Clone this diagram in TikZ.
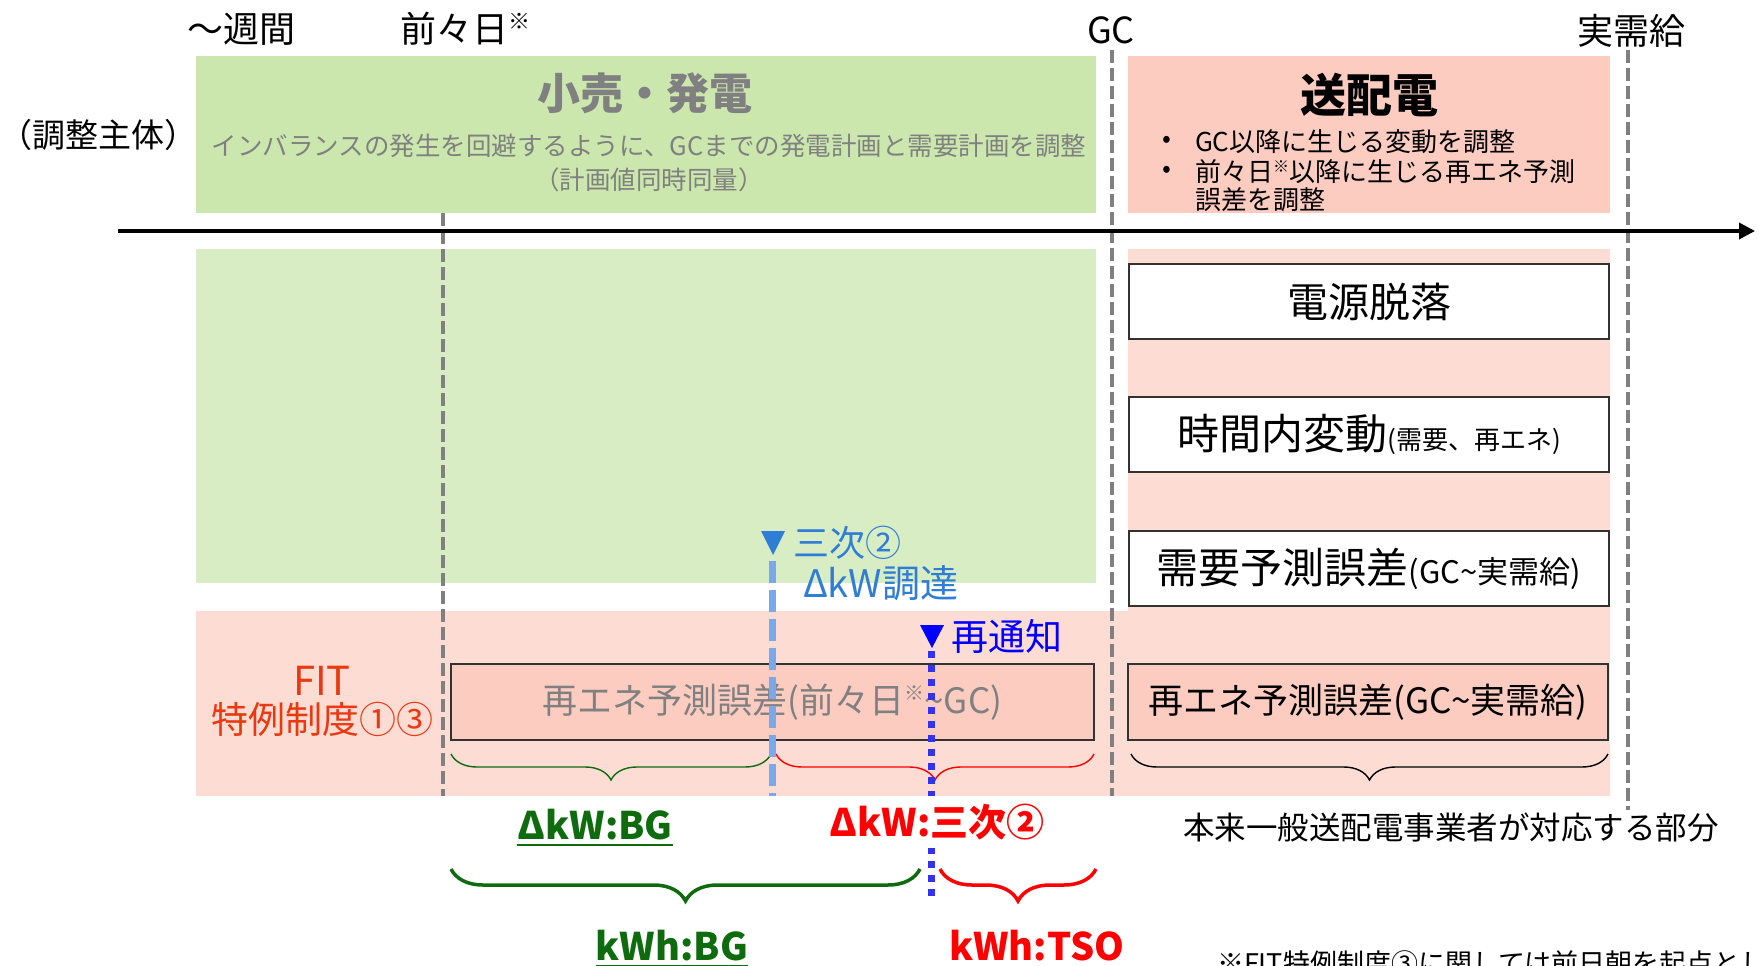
\documentclass[tikz,border=0pt]{standalone}
\usepackage{fontspec}
\setmainfont{Noto Sans CJK JP}
\usetikzlibrary{decorations.pathreplacing,arrows.meta}
\newcommand{\fsz}[1]{\fontsize{#1}{#1}\selectfont}
\newcommand{\kome}[1]{\raisebox{0.38em}{\fontsize{#1}{#1}\selectfont ※}}
\definecolor{gtop}{RGB}{203,231,174}
\definecolor{gbot}{RGB}{217,237,196}
\definecolor{ptop}{RGB}{252,204,193}
\definecolor{pbot}{RGB}{253,220,212}
\definecolor{grayline}{RGB}{128,128,128}
\definecolor{graytext}{RGB}{128,128,128}
\definecolor{dgreen}{RGB}{14,107,14}
\definecolor{fitred}{RGB}{234,56,16}
\definecolor{lblue}{RGB}{46,125,214}
\definecolor{lbline}{RGB}{125,168,232}
\definecolor{dblue}{RGB}{0,0,255}
\definecolor{dotblue}{RGB}{51,51,238}
\definecolor{boxline}{RGB}{50,50,50}
\tikzset{
  every node/.style={inner sep=0pt, outer sep=0pt},
  vdash/.style={draw=grayline, line width=3.5pt, dash pattern=on 13pt off 5pt},
  whitebox/.style={draw=boxline, line width=1.8pt, fill=white, minimum width=480pt, minimum height=75pt, anchor=north west},
  salmonbox/.style={draw=boxline, line width=1.8pt, fill=ptop, minimum height=76pt, anchor=north west},
  thinbrace/.style={decorate, decoration={brace, amplitude=26pt}, line width=1.4pt},
  thickbrace/.style={decorate, decoration={brace, amplitude=32pt}, line width=3.5pt},
  boldlab/.style={font=\bfseries\fsz{38}},
  ul/.style={line width=2.5pt}
}
\begin{document}
\begin{tikzpicture}[x=1pt,y=-1pt]
\useasboundingbox (0,0) rectangle (1759,966);
\clip (0,0) rectangle (1759,966);
% backgrounds
\fill[gtop] (196,56) rectangle (1096,213);
\fill[ptop] (1128,56) rectangle (1610,213);
\fill[gbot] (196,249) rectangle (1096,583);
\fill[pbot] (196,611) rectangle (1610,796);
\fill[pbot] (1128,249) rectangle (1610,611);

% top time labels
\node[font=\fsz{36}] (wk) at (241,29) {～週間};
\node[font=\fsz{36}, anchor=west] (zz) at (400,29) {前々日\kome{22}};
\node[font=\fsz{36}] (gc) at (1111,30) {GC};
\node[font=\fsz{36}] (jj) at (1631,31) {実需給};
\node[font=\fsz{33}] (sh) at (98,135) {（調整主体）};

% green top
\node[font=\bfseries\fsz{43}, text=graytext] (kh) at (645,93) {小売・発電};
\node[font=\fsz{25.5}, text=graytext] (khd1) at (649,146) {インバランスの発生を回避するように、GCまでの発電計画と需要計画を調整};
\node[font=\fsz{25.5}, text=graytext] (khd2) at (649,180) {（計画値同時同量）};

% pink top
\node[font=\bfseries\fsz{46}] (sh2) at (1369,95) {送配電};
\node[font=\fsz{26}] (bu1) at (1167,142) {•};
\node[font=\fsz{26}, anchor=west] (bt1) at (1195,142) {GC以降に生じる変動を調整};
\node[font=\fsz{26}] (bu2) at (1167,172) {•};
\node[font=\fsz{26}, anchor=west] (bt2) at (1195,172) {前々日\kome{16}以降に生じる再エネ予測};
\node[font=\fsz{26}, anchor=west] (bt3) at (1195,200) {誤差を調整};

% dashed time lines
\coordinate (d1a) at (443,213); \coordinate (d1b) at (443,796);
\coordinate (d2a) at (1112,50); \coordinate (d2b) at (1112,796);
\coordinate (d3a) at (1628,50); \coordinate (d3b) at (1628,810);
\draw[vdash] (d1a) -- (d1b);
\draw[vdash] (d2a) -- (d2b);
\draw[vdash] (d3a) -- (d3b);

% axis
\coordinate (a0) at (118,231); \coordinate (a1) at (1755,231);
\draw[line width=3.5pt, -{Triangle[length=16pt,width=16pt]}] (a0) -- (a1);

% right boxes
\node[whitebox] (dl) at (1129,264) {\fsz{41}電源脱落};
\node[whitebox] (jk) at (1129,397) {\fsz{42}時間内変動\fsz{26}(需要、再エネ)};
\node[whitebox] (jy) at (1129,531) {\fsz{42}需要予測誤差\fsz{31}(GC\textasciitilde 実需給)};
\node[salmonbox, minimum width=480pt] (rg) at (1128,664) {\fsz{35}再エネ予測誤差(GC\textasciitilde 実需給)};
\node[salmonbox, minimum width=643pt, text=graytext] (rl) at (451,664) {\fsz{35}再エネ予測誤差(前々日\kome{20}\textasciitilde GC)};

% FIT
\node[text=fitred, font=\fsz{40}] (fit1) at (322,681) {FIT};
\node[text=fitred, font=\fsz{37}] (fit2) at (322,719) {特例制度①③};

% thin braces
\coordinate (bgL) at (451,754); \coordinate (bgR) at (771,754);
\coordinate (brL) at (776,754); \coordinate (brR) at (1094,754);
\coordinate (bkL) at (1131,754); \coordinate (bkR) at (1608,754);
\draw[thinbrace, dgreen] (bgR) -- (bgL);
\draw[thinbrace, red] (brR) -- (brL);
\draw[thinbrace, black] (bkR) -- (bkL);

% light blue dashed line and label
\coordinate (lb0) at (772,561); \coordinate (lb1) at (772,796);
\draw[lbline, line width=7pt, dash pattern=on 22pt off 7pt] (lb0) -- (lb1);
\fill[lblue] (761,531) -- (785,531) -- (773,555) -- cycle;
\node[text=lblue, font=\fsz{36}, anchor=west] (s2) at (793,543) {三次②};
\node[text=lblue, font=\fsz{38}, anchor=west] (s2b) at (803,583) {ΔkW調達};

% blue dotted line and label
\coordinate (db0) at (931,651); \coordinate (db1) at (931,897);
\draw[dotblue, line width=7pt, dash pattern=on 7pt off 7pt] (db0) -- (db1);
\fill[dblue] (920,625) -- (944,625) -- (932,648) -- cycle;
\node[text=dblue, font=\fsz{37}, anchor=west] (rt) at (951,636) {再通知};

% bottom labels
\node[boldlab, text=dgreen] (kbg) at (595,825) {ΔkW:BG};
\draw[ul, dgreen] ([yshift=-5pt]kbg.base west) -- ([yshift=-5pt]kbg.base east);
\node[boldlab, text=red, fill=white, inner xsep=4pt, inner ysep=8pt] (k3) at (937,822) {ΔkW:三次②};

\coordinate (tgL) at (451,869); \coordinate (tgR) at (920,869);
\coordinate (trL) at (940,869); \coordinate (trR) at (1096,869);
\draw[thickbrace, dgreen] (tgR) -- (tgL);
\draw[thickbrace, red] (trR) -- (trL);

\node[boldlab, text=dgreen] (whbg) at (672,946) {kWh:BG};
\draw[ul, dgreen] ([yshift=-5pt]whbg.base west) -- ([yshift=-5pt]whbg.base east);
\node[boldlab, text=red] (whtso) at (1037,946) {kWh:TSO};

\node[font=\fsz{31.5}] (honrai) at (1451,828) {本来一般送配電事業者が対応する部分};
\node[font=\fsz{27}, anchor=base west] (note) at (1217,973) {※FIT特例制度③に関しては前日朝を起点とした};
\end{tikzpicture}
\end{document}
